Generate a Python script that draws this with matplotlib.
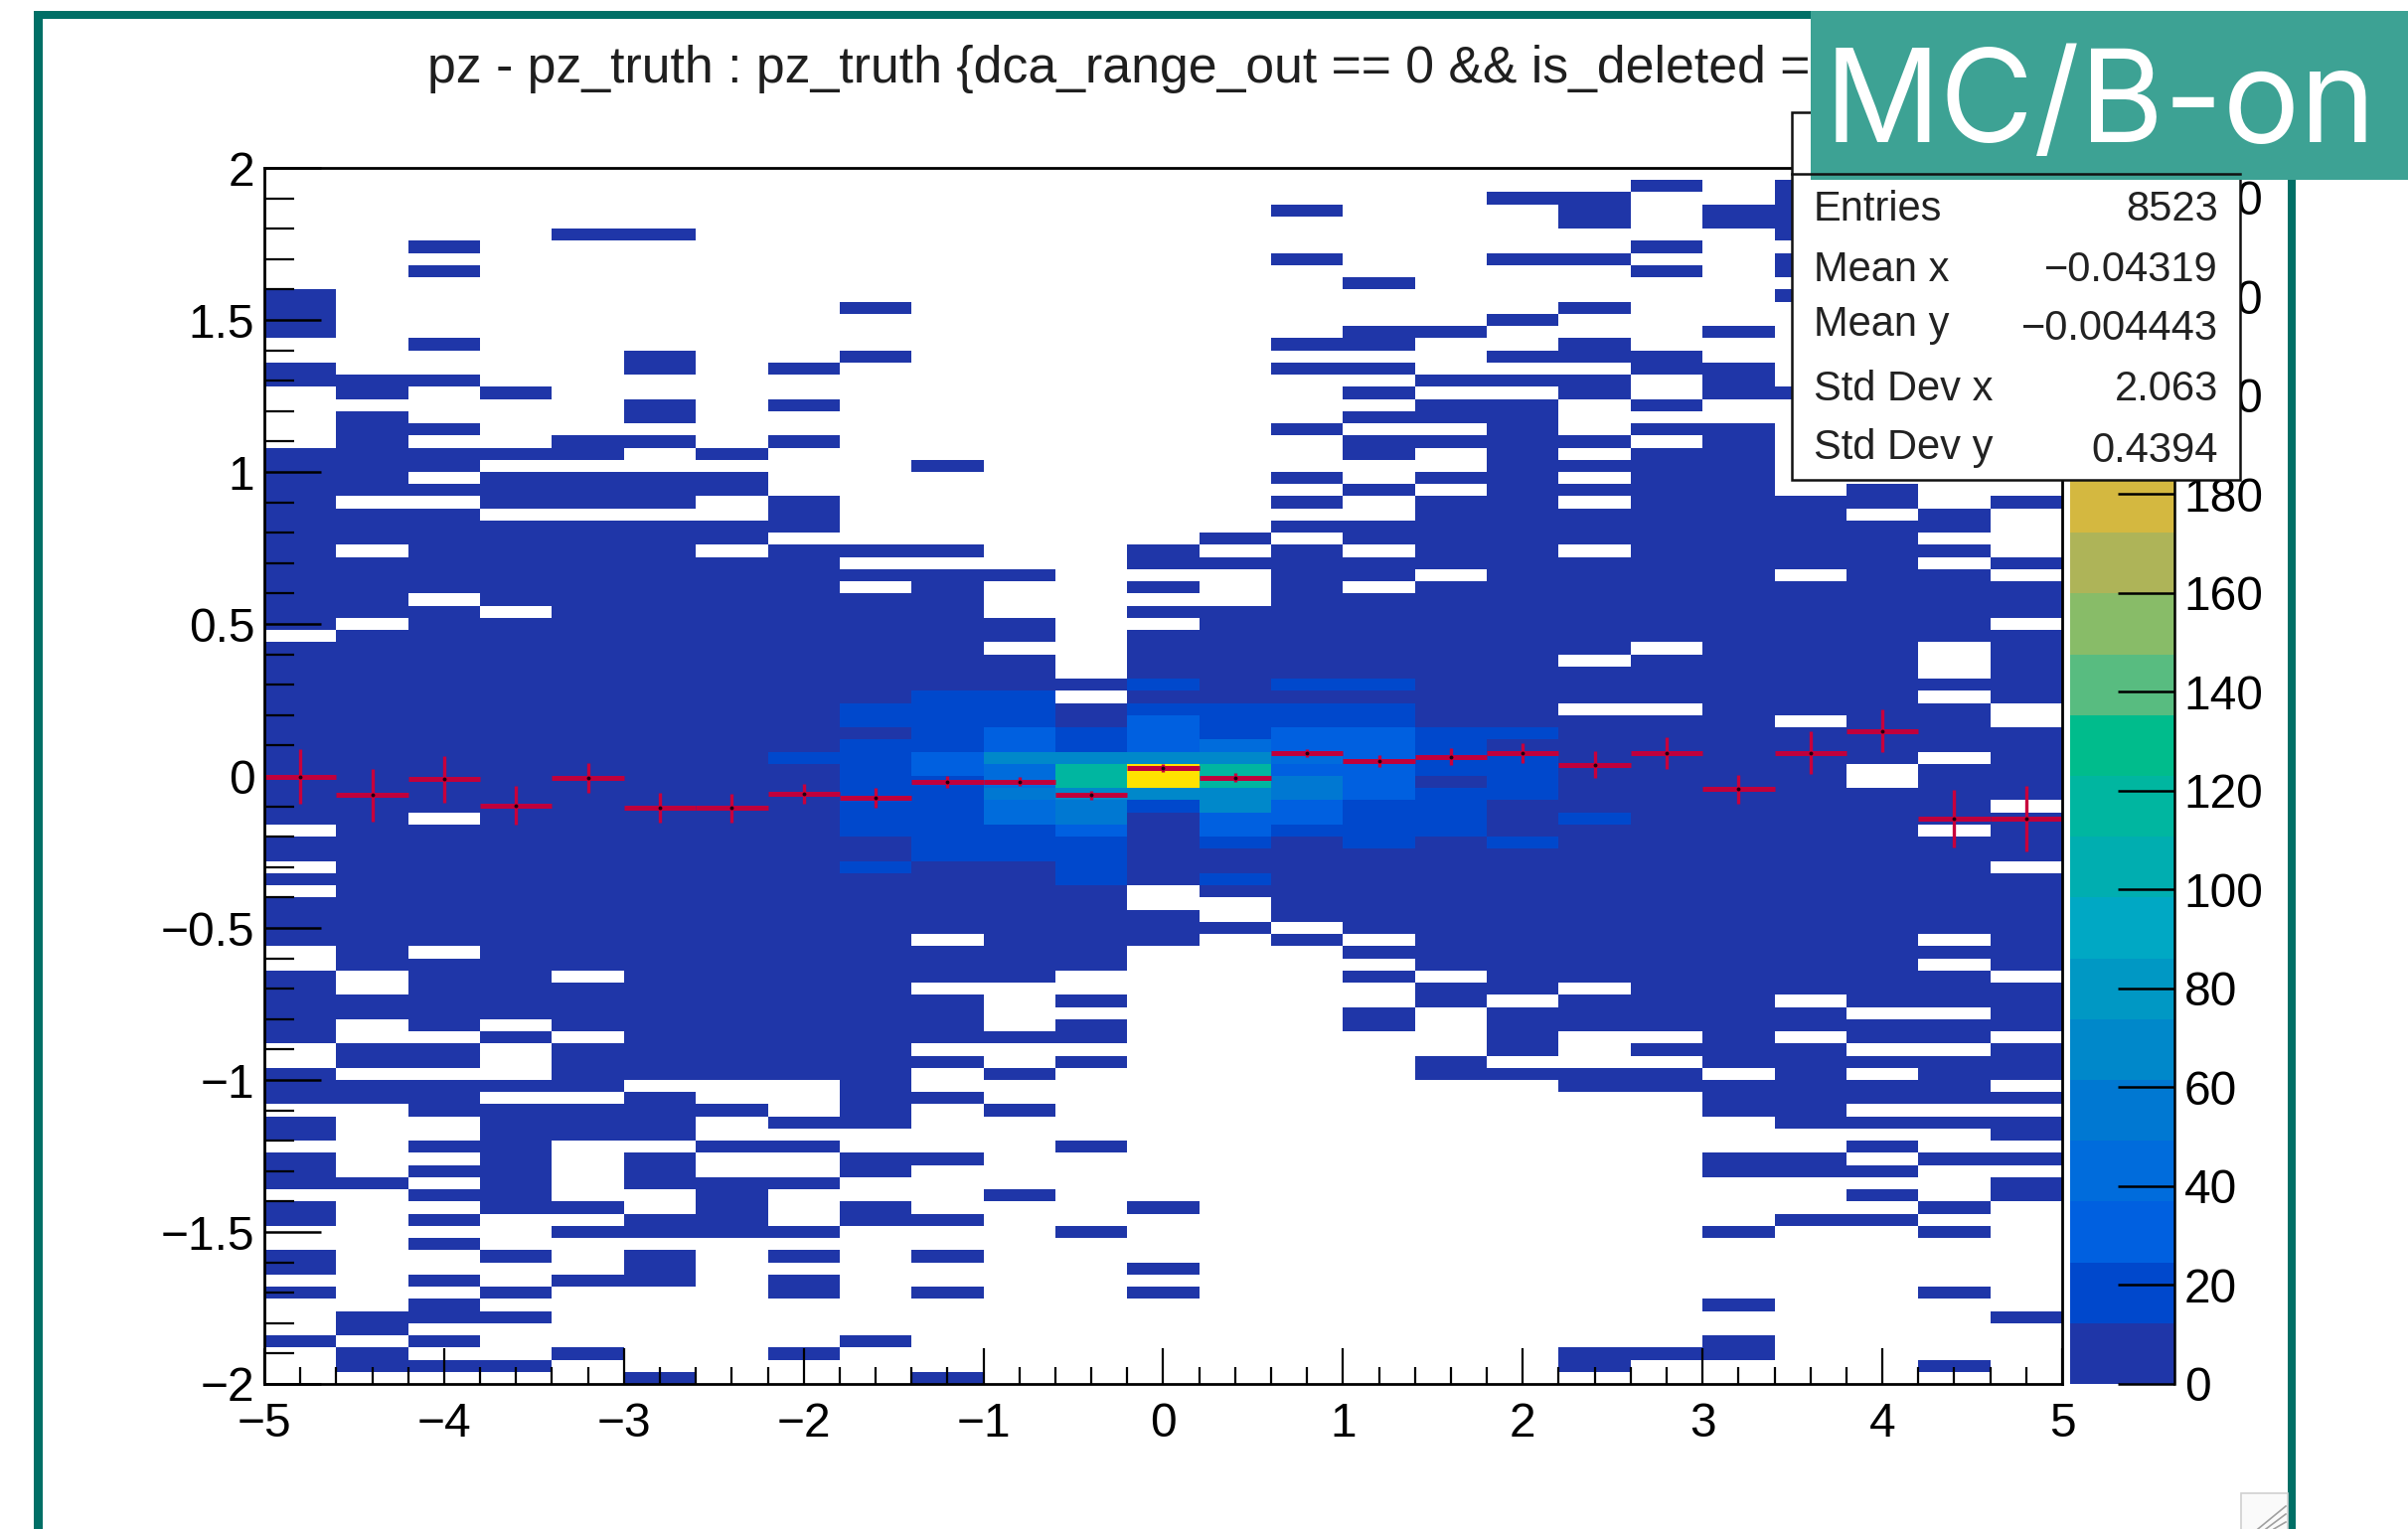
import numpy as np
import matplotlib
matplotlib.use("Agg")
import matplotlib.pyplot as plt
from matplotlib.colors import ListedColormap, BoundaryNorm
from matplotlib.patches import Rectangle

plt.rcParams['font.family'] = ['Liberation Sans', 'DejaVu Sans']

W, H = 2423, 1539

# ---- data: filled bins, per x-bin, as inclusive runs of y-bin rows counted from the top
col00 = [(10,13),(16,17),(23,37),(39,53),(55,56),(58,58),(60,63),(66,71),(74,76),(78,79),(81,83),(85,86),(89,90),(92,92),(96,96)]
col01 = [(17,18),(20,26),(28,30),(32,36),(38,65),(68,69),(72,73),(75,76),(83,83),(94,95),(97,98)]
col02 = [(6,6),(8,8),(14,14),(17,17),(21,21),(23,24),(26,26),(28,34),(36,52),(54,63),(65,70),(72,73),(75,77),(80,80),(82,82),(84,84),(86,86),(88,88),(91,91),(93,94),(96,96),(98,98)]
col03 = [(18,18),(23,23),(25,27),(29,35),(37,69),(71,71),(75,75),(77,85),(89,89),(92,92),(94,94),(98,98)]
col04 = [(5,5),(22,23),(25,27),(29,65),(67,70),(72,75),(77,79),(85,85),(87,87),(91,91),(97,97)]
col05 = [(5,5),(15,16),(19,20),(22,22),(25,27),(29,74),(76,79),(81,83),(86,87),(89,91),(99,99)]
col06 = [(23,23),(25,26),(29,30),(32,74),(77,77),(80,80),(83,87)]
col07 = [(16,16),(19,19),(22,22),(27,29),(31,74),(78,78),(80,80),(83,83),(87,87),(89,89),(91,92),(97,97)]
col08 = [(11,11),(15,15),(31,31),(33,33),(35,78),(81,82),(85,86),(96,96)]
col09 = [(24,24),(31,31),(33,62),(64,66),(68,71),(73,73),(76,76),(81,81),(86,86),(89,89),(92,92),(99,99)]
col10 = [(33,33),(37,38),(40,66),(71,71),(74,74),(77,77),(84,84)]
col11 = [(42,42),(44,65),(68,68),(70,71),(73,73),(80,80),(87,87)]
col12 = [(31,32),(34,34),(36,36),(38,58),(61,63),(85,85),(90,90),(92,92)]
col13 = [(30,30),(32,32),(36,59),(62,62)]
col14 = [(3,3),(7,7),(14,14),(16,16),(21,21),(25,25),(27,27),(29,29),(31,61),(63,63)]
col15 = [(9,9),(13,14),(16,16),(18,18),(20,20),(22,23),(26,26),(29,30),(32,33),(35,62),(64,64),(66,66),(69,70)]
col16 = [(13,13),(17,17),(19,20),(22,22),(25,25),(27,32),(34,65),(67,68),(73,74)]
col17 = [(2,2),(7,7),(12,12),(15,15),(17,17),(19,67),(69,72),(74,74)]
col18 = [(2,4),(7,7),(11,11),(14,15),(17,18),(22,22),(24,24),(26,26),(28,30),(32,39),(41,43),(45,66),(68,70),(74,75),(97,98)]
col19 = [(1,1),(6,6),(8,8),(15,16),(19,19),(21,21),(23,38),(40,43),(45,70),(72,72),(74,75),(97,97)]
col20 = [(3,4),(13,13),(16,18),(21,73),(75,77),(81,82),(87,87),(93,93),(96,97)]
col21 = [(1,5),(7,8),(10,10),(18,18),(27,32),(34,44),(46,67),(69,70),(72,78),(81,82),(86,86)]
col22 = [(26,27),(29,48),(51,68),(70,71),(73,73),(75,76),(78,78),(80,80),(82,82),(84,84),(86,86)]
col23 = [(28,29),(31,31),(33,38),(42,42),(44,47),(49,53),(55,62),(64,64),(66,68),(70,71),(73,76),(78,78),(81,81),(85,85),(87,87),(92,92),(98,98)]
col24 = [(27,27),(32,32),(34,36),(38,43),(46,51),(53,56),(58,65),(67,70),(72,74),(76,76),(78,79),(81,81),(83,84),(94,94)]
filled_columns = [col00,col01,col02,col03,col04,col05,col06,col07,col08,col09,col10,col11,col12,
                  col13,col14,col15,col16,col17,col18,col19,col20,col21,col22,col23,col24]
low_count = 6

# central bins with higher counts: (first row, last row, count)
core07 = [(48,48,18)]
core08 = [(44,45,18),(47,54,18),(57,57,18)]
core09 = [(43,47,18),(48,49,31),(50,56,18)]
core10 = [(43,45,18),(46,47,31),(48,48,69),(49,50,44),(51,51,56),(52,53,44),(54,56,18)]
core11 = [(46,47,18),(48,48,69),(49,50,119),(51,51,69),(52,53,56),(54,54,31),(55,58,18)]
core12 = [(42,42,18),(44,44,18),(45,47,31),(48,48,69),(49,50,240),(51,51,69),(52,52,18)]
core13 = [(44,46,18),(47,47,44),(48,48,69),(49,50,119),(51,52,69),(53,54,31),(55,55,18),(58,58,18)]
core14 = [(42,42,18),(44,45,18),(46,47,31),(48,48,44),(49,49,31),(50,51,56),(52,53,31),(54,54,18)]
core15 = [(42,42,18),(44,45,18),(46,51,31),(52,55,18)]
core16 = [(46,49,18),(51,54,18)]
core17 = [(46,46,18),(48,51,18),(55,55,18)]
core18 = [(53,53,18)]
core_columns = {7:core07,8:core08,9:core09,10:core10,11:core11,12:core12,13:core13,
                14:core14,15:core15,16:core16,17:core17,18:core18}

# profile overlay
profile_y = [-0.002,-0.063,-0.011,-0.097,-0.006,-0.105,-0.105,-0.060,-0.072,-0.019,-0.019,-0.063,0.026,
             -0.005,0.075,0.050,0.063,0.076,0.037,0.076,-0.044,0.076,0.148,-0.140,-0.140]
profile_err = [0.090,0.086,0.077,0.063,0.048,0.049,0.047,0.033,0.033,0.020,0.015,0.015,0.013,
               0.014,0.014,0.020,0.028,0.033,0.045,0.053,0.048,0.070,0.070,0.095,0.108]

level_colors = ['#1f36a8','#0048cc','#0060e0','#006cdc','#0078d2','#0088ca','#0098c4','#00a8c4',
                '#00aeb0','#00b6a0','#00bc8c','#58bc80','#88bc68','#aeb458','#d4b840','#e8c030',
                '#f4cc20','#f8dc10','#fce808','#ffe200']
zmax = 246.0

stat_names = ['Entries','Mean x','Mean y','Std Dev x','Std Dev y']
stat_values = ['8523','\u22120.04319','\u22120.004443','2.063','0.4394']
title_text = 'pz - pz_truth : pz_truth {dca_range_out == 0 && is_deleted ='

x_edges = np.linspace(-5, 5, 26)
y_edges = np.linspace(-2, 2, 101)
x_centers = 0.5*(x_edges[:-1]+x_edges[1:])
half_width = 0.5*(x_edges[1]-x_edges[0])

counts = np.full((100, 25), np.nan)
for c, runs in enumerate(filled_columns):
    for a, b in runs:
        counts[99-b:100-a, c] = low_count
for c, runs in core_columns.items():
    for a, b, v in runs:
        counts[99-b:100-a, c] = v

cmap = ListedColormap(level_colors)
cmap.set_bad((1, 1, 1, 0))
levels = np.linspace(0, zmax, 21)
norm = BoundaryNorm(levels, 20)

fig = plt.figure(figsize=(W/100, H/100), dpi=100, facecolor='white')

def place(l, t, r, b, **kw):
    return fig.add_axes([l/W, 1-b/H, (r-l)/W, (b-t)/H], **kw)

ax = place(266, 169, 2075, 1393, zorder=1)
ax.pcolormesh(x_edges, y_edges, np.ma.masked_invalid(counts), cmap=cmap, norm=norm,
              edgecolors='none', antialiased=False, zorder=1)
ax.set_xlim(-5, 5)
ax.set_ylim(-2, 2)
ax.hlines(profile_y, x_centers-half_width, x_centers+half_width, color='#c0003c', lw=3.6, zorder=3)
ax.vlines(x_centers, np.array(profile_y)-np.array(profile_err), np.array(profile_y)+np.array(profile_err),
          color='#c8003c', lw=2.4, zorder=3)
ax.plot(x_centers, profile_y, ls='none', marker='o', ms=2.8, color='#200010', mew=0, zorder=4)

def lab(v):
    s = ('%g' % abs(v))
    return ('\u2212' + s) if v < 0 else s

xt = np.arange(-5, 6)
yt = np.arange(-2, 2.01, 0.5)
ax.set_xticks(xt); ax.set_xticklabels([lab(v) for v in xt])
ax.set_yticks(yt); ax.set_yticklabels([lab(v) for v in yt])
ax.set_xticks(np.arange(-5, 5.01, 0.2), minor=True)
ax.set_yticks(np.arange(-2, 2.01, 0.1), minor=True)
ax.tick_params(axis='x', which='major', direction='in', length=26, width=1.6, labelsize=34.5, pad=13)
ax.tick_params(axis='x', which='minor', direction='in', length=12.5, width=1.6)
ax.tick_params(axis='y', which='major', direction='in', length=41, width=1.8, labelsize=34.5, pad=7)
ax.tick_params(axis='y', which='minor', direction='in', length=21.5, width=1.6)
for s in ax.spines.values():
    s.set_linewidth(2.0)
    s.set_zorder(5)

cax = place(2083, 169, 2188, 1393, zorder=1)
cax.pcolormesh([0, 1], levels, (0.5*(levels[:-1]+levels[1:])).reshape(-1, 1), cmap=cmap, norm=norm,
               edgecolors='none', antialiased=False)
cax.set_xlim(0, 1); cax.set_ylim(0, zmax)
cax.set_xticks([])
cax.yaxis.tick_right()
ct = np.arange(0, 241, 20)
cax.set_yticks(ct); cax.set_yticklabels([str(v) for v in ct])
cax.tick_params(axis='y', direction='in', length=41, width=1.8, labelsize=34.5, pad=7)
for k, s in cax.spines.items():
    s.set_visible(k == 'right')
    s.set_linewidth(1.8)

# overlay in image pixels: frame, statistics box, banner
ov = place(0, 0, W, H, zorder=10)
ov.set_xlim(0, W); ov.set_ylim(H, 0); ov.axis('off')
frame = '#006f66'
ov.add_patch(Rectangle((34, 11), 2276, 8, fc=frame, ec='none'))
ov.add_patch(Rectangle((34, 11), 9, H, fc=frame, ec='none'))
ov.add_patch(Rectangle((2302, 11), 8, H, fc=frame, ec='none'))

ov.text(430, 83, title_text, fontsize=37.25, color='#1f1f1f', ha='left', va='baseline')

ov.add_patch(Rectangle((1803, 113), 451, 370, fc='white', ec='#111111', lw=1.8))
ov.plot([1803, 2254], [175, 175], color='#111111', lw=1.8)
name_base = [222, 283, 338, 403, 462]
value_base = [222, 283, 342, 403, 465]
for n, v, yn, yv in zip(stat_names, stat_values, name_base, value_base):
    ov.text(1825, yn, n, fontsize=30, color='#222222', ha='left', va='baseline')
    ov.text(2232, yv, v, fontsize=30, color='#222222', ha='right', va='baseline')

ov.add_patch(Rectangle((1822, 11), W-1822, 170, fc='#3da294', ec='none'))
ov.text(1836, 143, 'MC/B-on', fontsize=93, family='Inter', color='white', ha='left', va='baseline')

# window resize handle
ov.add_patch(Rectangle((2255, 1503), 47, 60, fc='#fafafa', ec='#d0d0d0', lw=1.2))
for d in (0, 8, 16):
    ov.plot([2272+d, 2300], [1539, 1516+d], color='#a0a0a0', lw=1.2)

fig.savefig('out.png', dpi=100, facecolor='white')
